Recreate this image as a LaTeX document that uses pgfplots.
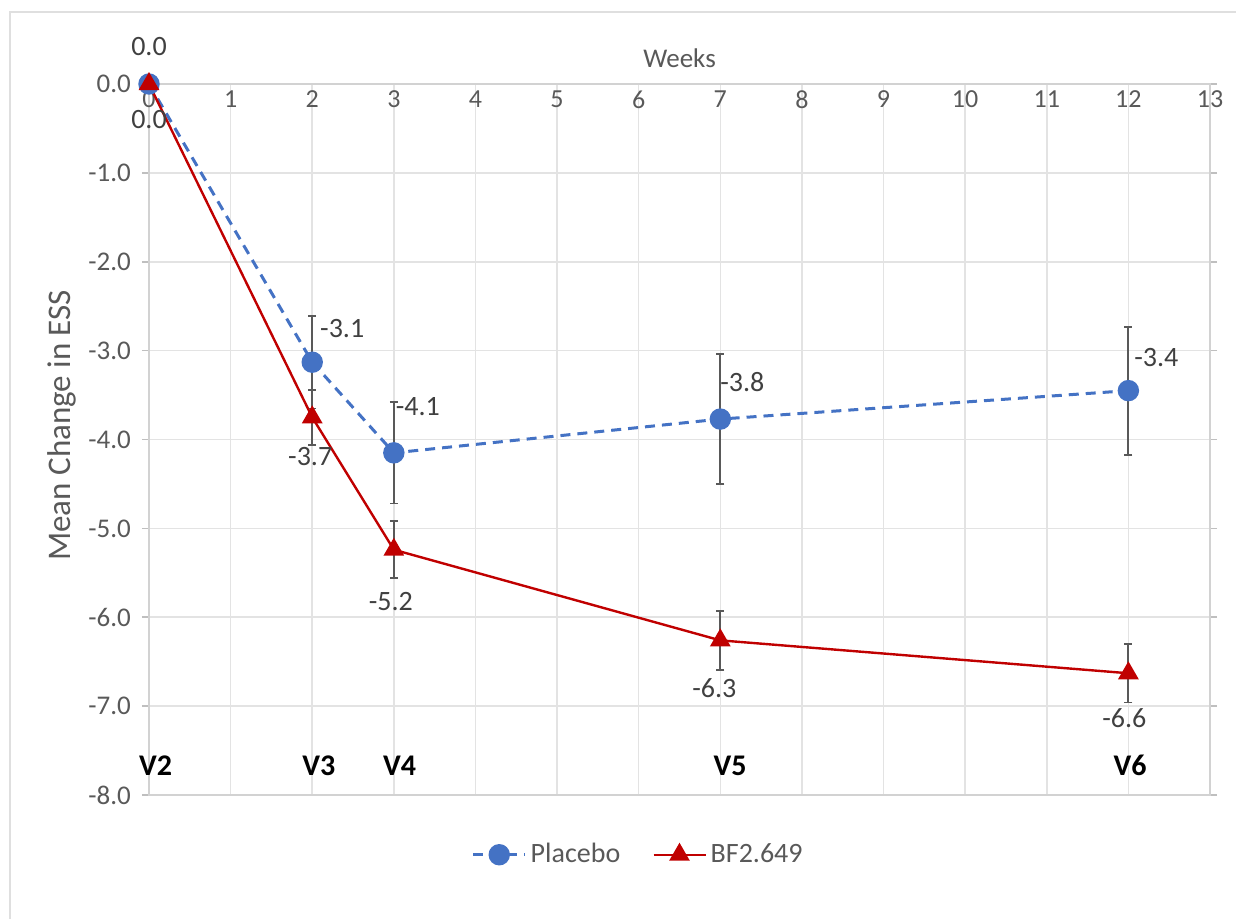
\documentclass[border=0pt]{standalone}
\usepackage{fontspec}
\setmainfont{Carlito}
\usepackage{pgfplots}
\usepackage{pgfplotstable}
\pgfplotsset{compat=1.18}
\definecolor{pblue}{HTML}{4472C4}
\definecolor{bred}{HTML}{C00000}
\definecolor{tgray}{HTML}{595959}
\definecolor{lgray}{HTML}{404040}

\pgfplotstableread{
x y lx ly lab
0 0 0 18.5 0.0
2 -3.13 15 17 -3.1
3 -4.15 12 23 -4.1
7 -3.77 11 18.5 -3.8
12 -3.45 14 16.5 -3.4
}\placebo
\pgfplotstableread{
x y lx ly lab
0 0 0 -18 0.0
2 -3.75 -1 -19.5 -3.7
3 -5.24 -1.5 -26 -5.2
7 -6.26 -3 -24 -6.3
12 -6.63 -2 -22.5 -6.6
}\drug
\pgfplotstableread{
x y e
2 -3.13 0.52
3 -4.15 0.57
7 -3.77 0.73
12 -3.45 0.72
}\placeboerr
\pgfplotstableread{
x y e
2 -3.75 0.31
3 -5.24 0.32
7 -6.26 0.33
12 -6.63 0.33
}\drugerr

\pgfplotsset{
  lbl/.style={
    point meta=explicit symbolic,
    nodes near coords={\pgfplotspointmeta},
    visualization depends on={\thisrow{lx} \as \lx},
    visualization depends on={\thisrow{ly} \as \ly},
    every node near coord/.append style={anchor=center, xshift=\lx pt, yshift=\ly pt, text=lgray, font=\fontsize{14}{14}\selectfont},
  },
  errp/.style={draw=none, mark=none, forget plot, error bars/.cd, y dir=both, y explicit,
    error bar style={tgray, line width=0.9pt, solid}, error mark options={tgray, mark size=2pt, line width=0.9pt, rotate=90}},
}

\begin{document}
\begin{tikzpicture}
\useasboundingbox (-74.5pt,-61.5pt) rectangle (543.5pt,397.5pt);
\draw[gray!25, line width=1pt] (-69.5pt,-70pt) -- (-69.5pt,391.5pt) -- (560pt,391.5pt);
\begin{axis}[
  at={(0pt,0pt)}, anchor=south west,
  scale only axis, width=530.5pt, height=355.5pt,
  xmin=0, xmax=13, ymin=-8, ymax=0,
  xtick={0,...,13}, ytick={-8,...,0},
  grid=major, grid style={gray!22, line width=0.8pt},
  axis line style={gray!35, line width=0.8pt},
  clip=false,
  xticklabel pos=upper,
  xtick style={draw=none},
  ytick style={gray!50, line width=0.8pt},
  tick align=outside, major tick length=3.5pt,
  xticklabel style={anchor=north, yshift=-3.5pt, font=\fontsize{13}{13}\selectfont, text=tgray},
  yticklabel style={anchor=east, xshift=-2pt, font=\fontsize{13.5}{13.5}\selectfont, text=tgray, /pgf/number format/.cd, fixed, fixed zerofill, precision=1},
  /pgf/number format/assume math mode=true,
  xlabel={Weeks},
  xlabel style={at={(axis description cs:0.5,1)}, anchor=center, yshift=13pt, font=\fontsize{13.5}{13.5}\selectfont, text=tgray},
  ylabel={Mean Change in ESS},
  ylabel style={at={(axis description cs:-0.082,0.52)}, anchor=center, font=\fontsize{16.5}{16.5}\selectfont, text=tgray},
  legend style={at={(axis description cs:0.462,-0.084)}, anchor=center, draw=none, fill=none, legend columns=2,
    font=\fontsize{14}{14}\selectfont, text=tgray, /tikz/every even column/.append style={column sep=14pt}},
  legend image code/.code={\draw[mark repeat=2,mark phase=2] plot coordinates {(0pt,0pt) (13pt,0pt) (26pt,0pt)};},
]
% error bars
\addplot[errp] table[x=x, y=y, y error=e]{\placeboerr};
\addplot[errp] table[x=x, y=y, y error=e]{\drugerr};
% series
\addplot[pblue, line width=1.5pt, dash pattern=on 5pt off 3.5pt, mark=*, mark size=4.6pt,
  mark options={solid, fill=pblue, draw=pblue}, lbl]
  table[x=x, y=y, meta=lab]{\placebo};
\addlegendentry{Placebo}
\addplot[bred, line width=1.2pt, mark=triangle*, mark size=4.8pt,
  mark options={solid, fill=bred, draw=bred}, lbl]
  table[x=x, y=y, meta=lab]{\drug};
\addlegendentry{BF2.649}
% visit labels
\node[font=\fontsize{15}{15}\selectfont\bfseries] at (axis cs:0.08,-7.67) {V2};
\node[font=\fontsize{15}{15}\selectfont\bfseries] at (axis cs:2.08,-7.67) {V3};
\node[font=\fontsize{15}{15}\selectfont\bfseries] at (axis cs:3.07,-7.67) {V4};
\node[font=\fontsize{15}{15}\selectfont\bfseries] at (axis cs:7.12,-7.67) {V5};
\node[font=\fontsize{15}{15}\selectfont\bfseries] at (axis cs:12.02,-7.67) {V6};
\end{axis}
\end{tikzpicture}
\end{document}
